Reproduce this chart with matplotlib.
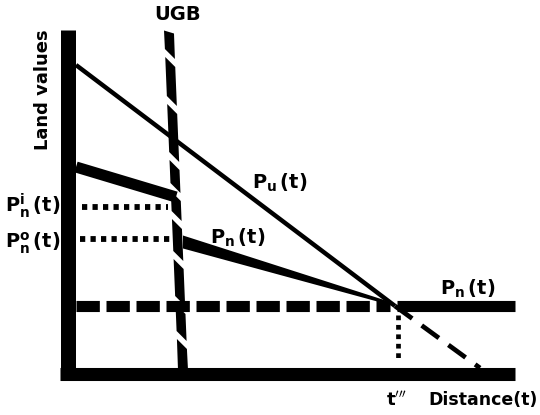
#!/usr/bin/env python3

import numpy as np
import matplotlib
matplotlib.use('Agg')
import matplotlib.pyplot as plt

plt.rcParams['font.family'] = ['DejaVu Sans']
plt.rcParams['mathtext.fontset'] = 'dejavusans'

# Schematic values (distance, land value), origin at the corner of the axes
axis_d = [-8, 447]          # horizontal axis extent
axis_v = [-8, 342]          # vertical axis extent

pu_d = [8, 327]             # urban land value P_u(t)
pu_v = [307, 66]
pu_ext_d = [327, 412]       # P_u(t) beyond t'''
pu_ext_v = [66, 4]

pn_in_d = [8, 108]          # P_n(t) inside the UGB
pn_in_v = [205, 175]
pn_out_d = [115, 324]       # P_n(t) outside the UGB
pn_out_v = [130, 68]
pn_far_d = [329, 447]       # P_n(t) beyond t'''
pn_far_v = [66, 66]

agri_d = [8, 322]           # agricultural level (dashed)
agri_v = 66

ugb_d = [101, 115]          # urban growth boundary
ugb_v = [340, 2]
ugb_gaps = [314, 267, 211, 180, 152, 112, 67, 32]

pn_i_level = 165
pn_o_level = 133
t3 = 330

fig = plt.figure(figsize=(5.4, 4.15), dpi=100)
ax = fig.add_axes([0, 0, 1, 1])
ax.set_xlim(-68, 472)
ax.set_ylim(-43, 372)
ax.axis('off')

# axes
ax.plot([0, 0], axis_v, color='black', lw=10.8, solid_capstyle='butt')
ax.plot(axis_d, [-1.5, -1.5], color='black', lw=9.4, solid_capstyle='butt')

# agricultural dashed level
ax.plot(agri_d, [agri_v, agri_v], color='black', lw=8, dashes=(2.1, 0.6),
        dash_capstyle='butt')
ax.plot(pn_far_d, pn_far_v, color='black', lw=8, solid_capstyle='butt')

# P_u(t)
ax.plot(pu_d, pu_v, color='black', lw=3.2, solid_capstyle='butt')
ax.plot(pu_ext_d, pu_ext_v, color='black', lw=3.4, dashes=(4.5, 2.5))

# P_n(t) inside
ax.plot(pn_in_d, pn_in_v, color='black', lw=8, solid_capstyle='butt')

# P_n(t) outside, tapering
hw0, hw1 = 6.5, 1.5
ax.fill([pn_out_d[0], pn_out_d[1], pn_out_d[1], pn_out_d[0]],
        [pn_out_v[0] + hw0, pn_out_v[1] + hw1, pn_out_v[1] - hw1, pn_out_v[0] - hw0],
        color='black', lw=0)

# dotted levels
ax.plot([14, 100], [pn_i_level, pn_i_level], color='black', lw=4.2,
        dashes=(0.9, 0.9), dash_capstyle='butt')
ax.plot([12, 108], [pn_o_level, pn_o_level], color='black', lw=4.2,
        dashes=(0.9, 0.9), dash_capstyle='butt')
ax.plot([t3, t3], [57, 10], color='black', lw=3.4,
        dashes=(1.0, 1.0), dash_capstyle='butt')

# UGB: thick line with slanted gaps
def ugb_x(v):
    return ugb_d[0] + (ugb_v[0] - v) * (ugb_d[1] - ugb_d[0]) / (ugb_v[0] - ugb_v[1])

w = 5.0
s = 5.0
tops = [ugb_v[0]] + [g - 4 for g in ugb_gaps]
bots = [g + 4 for g in ugb_gaps] + [ugb_v[1]]
for i, (va, vb) in enumerate(zip(tops, bots)):
    sa = 1.5 if i == 0 else s
    sb = 0 if i == len(tops) - 1 else s
    ax.fill([ugb_x(va) - w, ugb_x(va) + w, ugb_x(vb) + w, ugb_x(vb) - w],
            [va + sa, va - sa, vb - sb, vb + sb], color='black', lw=0, zorder=3)

# labels
bf = dict(fontweight='bold', color='black')
ax.text(110, 357, 'UGB', fontsize=14, ha='center', va='center', **bf)
ax.text(-25, 282, 'Land values', fontsize=13, rotation=90, ha='center', va='center', **bf)
ax.text(212, 189, r'$\mathbf{P_u\,(t)}$', fontsize=14, ha='center', va='center')
ax.text(170, 134, r'$\mathbf{P_n\,(t)}$', fontsize=14, ha='center', va='center')
ax.text(400, 83, r'$\mathbf{P_n\,(t)}$', fontsize=14, ha='center', va='center')
ax.text(-35, 166, r'$\mathbf{P_n^i\,(t)}$', fontsize=14, ha='center', va='center')
ax.text(-35, 129, r'$\mathbf{P_n^o\,(t)}$', fontsize=14, ha='center', va='center')
ax.text(329, -28, r"$\mathbf{t'''}$", fontsize=13, ha='center', va='center')
ax.text(470, -28, 'Distance(t)', fontsize=12.5, ha='right', va='center', **bf)

plt.savefig('out.png', dpi=100)
